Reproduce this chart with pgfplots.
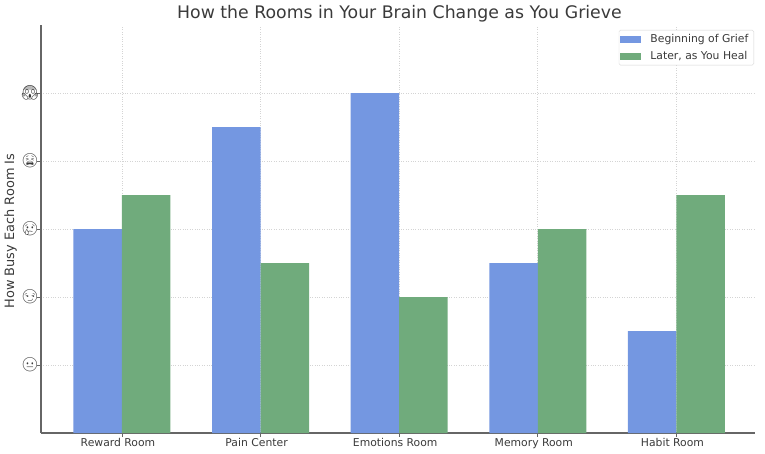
\documentclass[border=0pt]{standalone}
\usepackage{pgfplots}
\usepackage{fontspec}
\pgfplotsset{compat=1.18}
\setmainfont{DejaVu Sans}
\newfontfamily\emojifont{Noto Emoji}
\definecolor{griefBlue}{HTML}{7497E1}
\definecolor{healGreen}{HTML}{70AB7C}
\definecolor{inkGray}{HTML}{3A3A3A}
\definecolor{spineGray}{HTML}{666666}
\definecolor{gridGray}{HTML}{D4D4D4}
\newcommand{\emo}[1]{{\emojifont\fontsize{14}{14}\selectfont #1}}

\begin{document}
\begin{tikzpicture}[x=1pt,y=1pt]
  \useasboundingbox (0,0) rectangle (765,453);
  \begin{axis}[
    at={(41pt,20pt)}, anchor=south west,
    scale only axis,
    width=714pt, height=408pt,
    xmin=-0.584, xmax=4.567,
    ymin=0, ymax=6,
    axis x line=bottom, axis y line=left,
    axis line style={draw=spineGray, line width=1.2pt, -},
    xtick={0,1,2,3,4},
    xticklabels={Reward Room,Pain Center,Emotions Room,Memory Room,Habit Room},
    ytick={1,2,3,4,5},
    yticklabels={\emo{😐},\emo{😏},\emo{😢},\emo{😫},\emo{😱}},
    tick style={draw=spineGray, line width=0.7pt},
    tick align=outside,
    major tick length=3.5pt,
    x tick label style={font=\fontsize{10.8}{12}\selectfont, text=inkGray, xshift=-4pt, yshift=2pt, text height=8pt, text depth=2pt},
    y tick label style={text=inkGray, xshift=5pt},
    grid=major,
    major grid style={draw=gridGray, dotted, line width=0.7pt},
    ylabel={How Busy Each Room Is},
    ylabel style={font=\fontsize{12.9}{14}\selectfont, text=inkGray, at={(axis description cs:-0.029,0.495)}, anchor=south},
    title={How the Rooms in Your Brain Change as You Grieve},
    title style={font=\fontsize{17.3}{20}\selectfont, text=inkGray, at={(axis description cs:0.502,1.0)}, anchor=south, yshift=-7pt},
    legend style={
      at={(713pt,403pt)}, anchor=north east,
      font=\fontsize{10.8}{12}\selectfont, text=inkGray,
      draw=gridGray, fill=white, rounded corners=1.5pt,
      row sep=3.5pt,
      inner xsep=1.5pt,
      nodes={inner xsep=4pt}
    },
    legend cell align={left},
    legend image code/.code={
      \draw[#1, draw=none, sharp corners] (0pt,-3.5pt) rectangle (21pt,3.5pt);
      \path (26pt,0pt);
    }
  ]
    \addplot[ybar, bar width=48.5pt, bar shift=-24.25pt, fill=griefBlue, draw=none]
      coordinates {(0,3) (1,4.5) (2,5) (3,2.5) (4,1.5)};
    \addlegendentry{Beginning of Grief}
    \addplot[ybar, bar width=48.5pt, bar shift=24.25pt, fill=healGreen, draw=none]
      coordinates {(0,3.5) (1,2.5) (2,2) (3,3) (4,3.5)};
    \addlegendentry{Later, as You Heal}
  \end{axis}
\end{tikzpicture}
\end{document}
